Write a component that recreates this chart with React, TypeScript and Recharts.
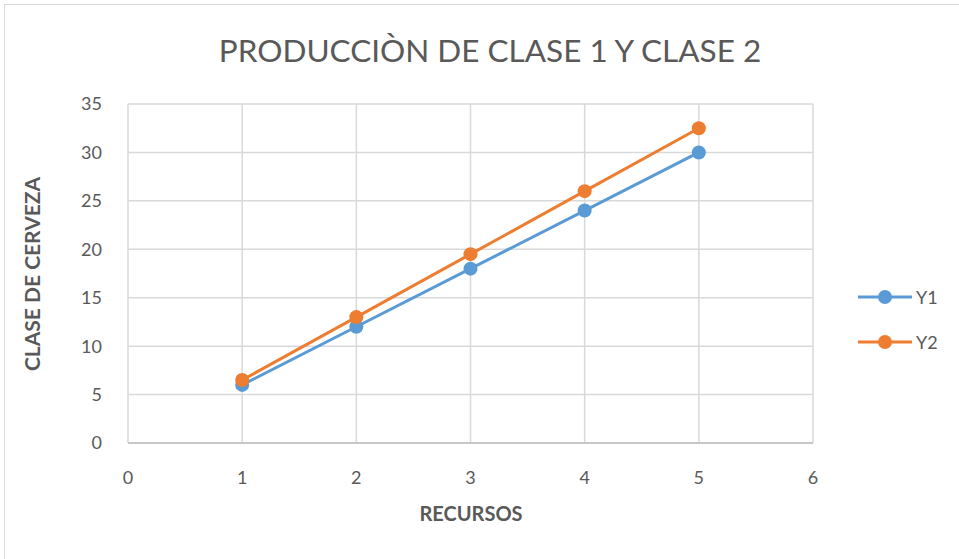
import React from 'react';
import {LineChart, Line, XAxis, YAxis, CartesianGrid} from 'recharts';

const recursos = [1, 2, 3, 4, 5];
const y1 = [6, 12, 18, 24, 30];
const y2 = [6.5, 13, 19.5, 26, 32.5];
const xTicks = [0, 1, 2, 3, 4, 5, 6];
const yTicks = [0, 5, 10, 15, 20, 25, 30, 35];
const seriesNames = ['Y1', 'Y2'];
const seriesColors = ['#5b9bd5', '#ed7d31'];

const data = recursos.map((r, i) => ({x: r, Y1: y1[i], Y2: y2[i]}));

const FONT = 'Lato, "Open Sans", sans-serif';
const TXT = '#595959';

// legend drawn outside the chart so it doesn't eat plot space
const LegendBox = () => (
    <div style={{position: 'absolute', left: 858, top: 274, fontFamily: FONT, fontSize: 18, color: TXT}}>
        {seriesNames.map((name, i) => (
            <div key={name} style={{display: 'flex', alignItems: 'center', height: 45}}>
                <svg width={56} height={16}>
                    <line x1={0} y1={8} x2={54} y2={8} stroke={seriesColors[i]} strokeWidth={3}/>
                    <circle cx={27} cy={8} r={7} fill={seriesColors[i]}/>
                </svg>
                <span style={{marginLeft: 2}}>{name}</span>
            </div>
        ))}
    </div>
);

const App = () => {
    return (
        <div style={{position: 'absolute', left: 0, top: 0, width: 959, height: 559, background: '#fff', overflow: 'hidden'}}>
            <div style={{position: 'absolute', left: 4, top: 4, width: 970, height: 570, border: '1px solid #d9d9d9'}}/>
            <LineChart
                width={959}
                height={559}
                data={data}
                margin={{top: 104, right: 146, left: 0, bottom: 0}}
            >
                <text x={490} y={62} textAnchor="middle" fontFamily={FONT} fontSize={31.5} fill={TXT}>
                    PRODUCCIÒN DE CLASE 1 Y CLASE 2
                </text>
                <text x={40} y={274} textAnchor="middle" fontFamily={FONT} fontSize={21} fontWeight="bold" fill={TXT}
                      transform="rotate(-90 40 274)">
                    CLASE DE CERVEZA
                </text>
                <text x={471} y={521} textAnchor="middle" fontFamily={FONT} fontSize={20} fontWeight="bold" fill={TXT}>
                    RECURSOS
                </text>
                <CartesianGrid stroke="#d9d9d9" strokeWidth={1.5}/>
                <XAxis
                    type="number"
                    dataKey="x"
                    domain={[0, 6]}
                    ticks={xTicks}
                    height={116}
                    tickLine={false}
                    axisLine={{stroke: '#bfbfbf', strokeWidth: 1.5}}
                    tickMargin={22}
                    tick={{fontFamily: FONT, fontSize: 18, fill: TXT}}
                />
                <YAxis
                    type="number"
                    domain={[0, 35]}
                    ticks={yTicks}
                    width={128}
                    tickLine={false}
                    axisLine={false}
                    tickMargin={20}
                    tick={{fontFamily: FONT, fontSize: 18, fill: TXT}}
                />
                <Line dataKey="Y1" stroke={seriesColors[0]} strokeWidth={3}
                      dot={{r: 7, fill: seriesColors[0], stroke: 'none'}} isAnimationActive={false}/>
                <Line dataKey="Y2" stroke={seriesColors[1]} strokeWidth={3}
                      dot={{r: 7, fill: seriesColors[1], stroke: 'none'}} isAnimationActive={false}/>
            </LineChart>
            <LegendBox/>
        </div>
    );
};

export default App;
